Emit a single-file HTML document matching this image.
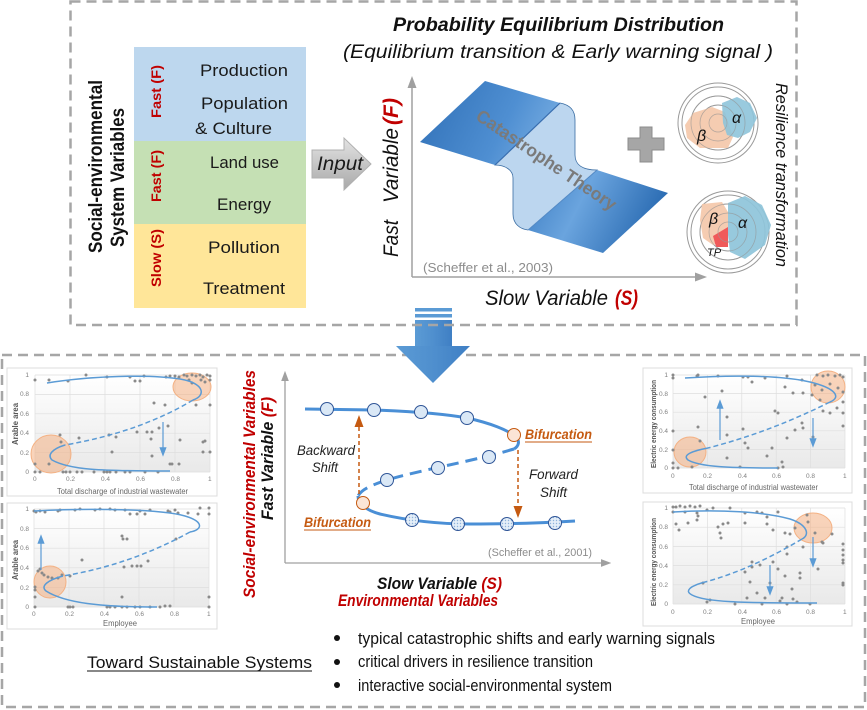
<!DOCTYPE html>
<html><head><meta charset="utf-8">
<style>
html,body{margin:0;padding:0;background:#fff;}
svg{display:block;}
text{font-family:"Liberation Sans",Arial,sans-serif;}
</style></head>
<body>
<svg width="867" height="710" viewBox="0 0 867 710" xmlns="http://www.w3.org/2000/svg">
<defs>
<linearGradient id="gIn" x1="0" y1="0" x2="0" y2="1"><stop offset="0" stop-color="#e3e3e3"/><stop offset="1" stop-color="#a9a9a9"/></linearGradient>
<linearGradient id="gL" x1="0" y1="0" x2="1" y2="0.3"><stop offset="0" stop-color="#2f6fb6"/><stop offset="0.7" stop-color="#4f8fd2"/><stop offset="1" stop-color="#6ea6de"/></linearGradient>
<linearGradient id="gR" x1="0" y1="0" x2="1" y2="0.3"><stop offset="0" stop-color="#3b7cc2"/><stop offset="0.45" stop-color="#6aa4de"/><stop offset="1" stop-color="#2b6cb3"/></linearGradient>
<linearGradient id="gArr" x1="0" y1="0" x2="1" y2="0"><stop offset="0" stop-color="#5b9bd5"/><stop offset="0.5" stop-color="#4f8fce"/><stop offset="1" stop-color="#3f7fc4"/></linearGradient>
<linearGradient id="gPlot" x1="0" y1="0" x2="0" y2="1"><stop offset="0" stop-color="#ffffff"/><stop offset="1" stop-color="#e9e9e9"/></linearGradient>
<marker id="mGrey" markerWidth="8" markerHeight="8" refX="4" refY="4" orient="auto"><path d="M0,1 L8,4 L0,7 Z" fill="#a0a0a0"/></marker>
<marker id="mOr" markerWidth="8" markerHeight="8" refX="4" refY="4" orient="auto"><path d="M0,1 L8,4 L0,7 Z" fill="#c55a11"/></marker>
<marker id="mBl" markerWidth="8" markerHeight="8" refX="4" refY="4" orient="auto"><path d="M0,1 L8,4 L0,7 Z" fill="#5b9bd5"/></marker>
<pattern id="hatch" width="3" height="3" patternUnits="userSpaceOnUse"><rect width="3" height="3" fill="#e4eef8"/><circle cx="1.5" cy="1.5" r="0.7" fill="#8fb3dc"/></pattern>
</defs>

<!-- ===== TOP BOX ===== -->
<rect x="134" y="47" width="172" height="94" fill="#bdd7ee"/>
<rect x="134" y="141" width="172" height="83" fill="#c5e0b4"/>
<rect x="134" y="224" width="172" height="84" fill="#ffe699"/>
<g font-size="17" fill="#1a1a1a">
<text x="200" y="76" textLength="88" lengthAdjust="spacingAndGlyphs">Production</text>
<text x="201" y="109" textLength="87" lengthAdjust="spacingAndGlyphs">Population</text>
<text x="195" y="134" textLength="77" lengthAdjust="spacingAndGlyphs">&amp; Culture</text>
<text x="210" y="168" textLength="69" lengthAdjust="spacingAndGlyphs">Land use</text>
<text x="217" y="210" textLength="54" lengthAdjust="spacingAndGlyphs">Energy</text>
<text x="208" y="253" textLength="72" lengthAdjust="spacingAndGlyphs">Pollution</text>
<text x="203" y="294" textLength="82" lengthAdjust="spacingAndGlyphs">Treatment</text>
</g>
<g font-size="14" font-weight="bold" fill="#c00000">
<text transform="translate(161,118) rotate(-90)" textLength="53" lengthAdjust="spacingAndGlyphs">Fast (F)</text>
<text transform="translate(161,202) rotate(-90)" textLength="52" lengthAdjust="spacingAndGlyphs">Fast (F)</text>
<text transform="translate(161,287) rotate(-90)" textLength="58" lengthAdjust="spacingAndGlyphs">Slow (S)</text>
</g>
<g font-size="19" font-weight="bold" fill="#111">
<text transform="translate(102,253) rotate(-90)" textLength="173" lengthAdjust="spacingAndGlyphs">Social-environmental</text>
<text transform="translate(124,247) rotate(-90)" textLength="139" lengthAdjust="spacingAndGlyphs">System Variables</text>
</g>
<polygon points="312,150 344,150 344,138 371,164 344,190 344,178 312,178" fill="url(#gIn)" stroke="#b0b0b0" stroke-width="1"/>
<text x="317" y="170" font-size="19" font-style="italic" fill="#1a1a1a" textLength="46" lengthAdjust="spacingAndGlyphs">Input</text>

<text x="393" y="31" font-size="19" font-weight="bold" font-style="italic" fill="#111" textLength="331" lengthAdjust="spacingAndGlyphs">Probability Equilibrium Distribution</text>
<text x="343" y="58" font-size="19" font-style="italic" fill="#111" textLength="430" lengthAdjust="spacingAndGlyphs">(Equilibrium transition &amp; Early warning signal )</text>

<line x1="412" y1="277" x2="412" y2="82" stroke="#a0a0a0" stroke-width="1.5" marker-end="url(#mGrey)"/>
<line x1="412" y1="277" x2="701" y2="277" stroke="#a0a0a0" stroke-width="1.5" marker-end="url(#mGrey)"/>
<g transform="translate(398,257) rotate(-90)" font-size="21" font-style="italic" fill="#111">
<text x="0" y="0" textLength="37" lengthAdjust="spacingAndGlyphs">Fast</text>
<text x="54" y="0" textLength="75" lengthAdjust="spacingAndGlyphs">Variable</text>
<text x="132" y="0" textLength="27" lengthAdjust="spacingAndGlyphs" font-weight="bold" fill="#c00000">(F)</text>
</g>
<text x="485" y="305" font-size="21" font-style="italic" fill="#111" textLength="123" lengthAdjust="spacingAndGlyphs">Slow Variable</text>
<text x="615" y="305" font-size="21" font-style="italic" font-weight="bold" fill="#c00000" textLength="23" lengthAdjust="spacingAndGlyphs">(S)</text>
<text x="423" y="272" font-size="13" fill="#8c8c8c" textLength="130" lengthAdjust="spacingAndGlyphs">(Scheffer et al., 2003)</text>

<path d="M420,142 L485,81 L560,103 L495,165 Z" fill="url(#gL)"/>
<path d="M597,170 L668,193 L603,253 L528,230 Z" fill="url(#gR)"/>
<path d="M560,103 C570,105 575,110 575,120 L575,155 C575,165 583,170 597,170 L528,230 C520,229 513,224 513,214 L513,178 C513,170 505,165 495,165 Z" fill="#bcd6ef" stroke="#3a6da3" stroke-width="0.8"/>
<line x1="560" y1="103" x2="495" y2="165" stroke="#3a6fb0" stroke-width="1.2"/>
<line x1="597" y1="170" x2="528" y2="230" stroke="#5a90cc" stroke-width="0.8"/>
<text transform="translate(543,165) rotate(34)" text-anchor="middle" font-size="18" font-weight="bold" fill="#7a7a7a" textLength="165" lengthAdjust="spacingAndGlyphs">Catastrophe Theory</text>

<path d="M640,127 H652 V138 H664 V150 H652 V162 H640 V150 H628 V138 H640 Z" fill="#a6a6a6" stroke="#8c8c8c" stroke-width="1"/>

<g fill="none" stroke="#9a9a9a" stroke-width="1">
<circle cx="718" cy="123" r="40"/><circle cx="718" cy="123" r="36"/><circle cx="718" cy="123" r="27"/><circle cx="718" cy="123" r="18"/><circle cx="718" cy="123" r="9"/>
</g>
<polygon points="685,125 693,113 712,107 725,112 733,137 728,148 700,148 687,138" fill="#f4c7a8" opacity="0.9"/>
<polygon points="722,103 737,97 750,103 757,118 750,132 738,138 727,135 723,123" fill="#8ec4da" opacity="0.9"/>
<g fill="none" stroke="#9a9a9a" stroke-width="0.7" opacity="0.7"><circle cx="718" cy="123" r="18"/><circle cx="718" cy="123" r="9"/><circle cx="718" cy="123" r="27"/></g>
<text x="697" y="141" font-size="16" font-style="italic" fill="#111">β</text>
<text x="732" y="123" font-size="16" font-style="italic" fill="#111">α</text>
<g fill="none" stroke="#9a9a9a" stroke-width="1">
<circle cx="728" cy="232" r="41"/><circle cx="728" cy="232" r="37"/><circle cx="728" cy="232" r="28"/><circle cx="728" cy="232" r="19"/><circle cx="728" cy="232" r="10"/>
</g>
<polygon points="702,204 722,202 728,212 728,238 713,245 703,238 700,220" fill="#f4c7a8" opacity="0.9"/>
<polygon points="728,203 745,196 762,205 771,225 765,245 745,259 730,252 728,235" fill="#8ec4da" opacity="0.92"/>
<polygon points="713,236 728,227 728,247 716,247" fill="#f05a5a"/>
<g fill="none" stroke="#9a9a9a" stroke-width="0.7" opacity="0.7"><circle cx="728" cy="232" r="19"/><circle cx="728" cy="232" r="10"/><circle cx="728" cy="232" r="28"/></g>
<text x="709" y="224" font-size="16" font-style="italic" fill="#111">β</text>
<text x="738" y="228" font-size="16" font-style="italic" fill="#111">α</text>
<text x="707" y="256" font-size="11" font-style="italic" fill="#111">TP</text>
<text transform="translate(776,83) rotate(90)" font-size="17" font-style="italic" fill="#111" textLength="184" lengthAdjust="spacingAndGlyphs">Resilience transformation</text>

<!-- bottom dashed box (under arrow) -->
<rect x="2" y="355" width="863" height="352" fill="none" stroke="#a6a6a6" stroke-width="2.5" stroke-dasharray="10 6"/>

<!-- big blue arrow -->
<rect x="415" y="308" width="37" height="3.5" fill="#5b9bd5"/>
<rect x="415" y="314" width="37" height="3.5" fill="#5b9bd5"/>
<rect x="415" y="320" width="37" height="27" fill="url(#gArr)"/>
<polygon points="396,346 470,346 433,383" fill="url(#gArr)"/>

<!-- top dashed box (over arrow) -->
<rect x="70.5" y="1.5" width="726" height="323.5" fill="none" stroke="#a6a6a6" stroke-width="2.5" stroke-dasharray="10 6"/>

<!-- ===== BOTTOM MIDDLE DIAGRAM ===== -->
<line x1="285" y1="563" x2="285" y2="376" stroke="#a0a0a0" stroke-width="1.3" marker-end="url(#mGrey)"/>
<line x1="285" y1="563" x2="606" y2="563" stroke="#a0a0a0" stroke-width="1.3" marker-end="url(#mGrey)"/>
<path d="M305,409 L374,410 C400,411 440,413 467,418 C490,423 508,430 516,437 C520,441 519,446 514,449" fill="none" stroke="#4a8fd6" stroke-width="3"/>
<path d="M514,449 C470,462 420,470 387,480 C372,485 362,489 358,496" fill="none" stroke="#4a8fd6" stroke-width="3" stroke-dasharray="12 7"/>
<path d="M358,496 C358,503 365,510 380,514 C410,521 440,524 470,524 C510,524 545,523 575,521" fill="none" stroke="#4a8fd6" stroke-width="3"/>
<g stroke="#2f5597" stroke-width="1" fill="#dae8f6">
<circle cx="327" cy="409" r="6.5"/><circle cx="374" cy="410" r="6.5"/><circle cx="421" cy="412" r="6.5"/><circle cx="467" cy="418" r="6.5"/>
<circle cx="387" cy="480" r="6.5"/><circle cx="438" cy="468" r="6.5"/><circle cx="489" cy="457" r="6.5"/>
</g>
<g stroke="#2f5597" stroke-width="1" fill="url(#hatch)">
<circle cx="412" cy="520" r="6.5"/><circle cx="458" cy="524" r="6.5"/><circle cx="507" cy="524" r="6.5"/><circle cx="555" cy="523" r="6.5"/>
</g>
<g stroke="#c55a11" stroke-width="1" fill="#fbe5d6">
<circle cx="514" cy="435" r="6.5"/><circle cx="363" cy="503" r="6.5"/>
</g>
<line x1="359" y1="494" x2="359" y2="421" stroke="#c55a11" stroke-width="1.5" stroke-dasharray="4 3" marker-end="url(#mOr)"/>
<line x1="518" y1="450" x2="518" y2="512" stroke="#c55a11" stroke-width="1.5" stroke-dasharray="4 3" marker-end="url(#mOr)"/>
<g font-size="14" font-weight="bold" font-style="italic" fill="#c55a11">
<text x="525" y="439" textLength="67" lengthAdjust="spacingAndGlyphs">Bifurcation</text>
<text x="304" y="527" textLength="67" lengthAdjust="spacingAndGlyphs">Bifurcation</text>
</g>
<line x1="525" y1="442" x2="592" y2="442" stroke="#c55a11" stroke-width="1"/>
<line x1="304" y1="530" x2="371" y2="530" stroke="#c55a11" stroke-width="1"/>
<g font-size="14" font-style="italic" fill="#222">
<text x="297" y="455" textLength="58" lengthAdjust="spacingAndGlyphs">Backward</text>
<text x="312" y="472" textLength="26" lengthAdjust="spacingAndGlyphs">Shift</text>
<text x="529" y="479" textLength="49" lengthAdjust="spacingAndGlyphs">Forward</text>
<text x="540" y="497" textLength="27" lengthAdjust="spacingAndGlyphs">Shift</text>
</g>
<text x="488" y="556" font-size="11" fill="#8c8c8c" textLength="104" lengthAdjust="spacingAndGlyphs">(Scheffer et al., 2001)</text>
<text transform="translate(255,598) rotate(-90)" font-size="17" font-weight="bold" font-style="italic" fill="#c00000" textLength="228" lengthAdjust="spacingAndGlyphs">Social-environmental Variables</text>
<text transform="translate(273,520) rotate(-90)" font-size="17" font-weight="bold" font-style="italic" fill="#111" textLength="123" lengthAdjust="spacingAndGlyphs">Fast  Variable <tspan fill="#c00000">(F)</tspan></text>
<text x="377" y="589" font-size="17" font-weight="bold" font-style="italic" fill="#111" textLength="125" lengthAdjust="spacingAndGlyphs">Slow Variable <tspan fill="#c00000">(S)</tspan></text>
<text x="338" y="606" font-size="17" font-weight="bold" font-style="italic" fill="#c00000" textLength="160" lengthAdjust="spacingAndGlyphs">Environmental Variables</text>

<g fill="#111">
<circle cx="337" cy="638" r="3"/><circle cx="337" cy="662" r="3"/><circle cx="337" cy="685" r="3"/>
</g>
<g font-size="17" fill="#111">
<text x="358" y="644" textLength="357" lengthAdjust="spacingAndGlyphs">typical catastrophic shifts and early warning signals</text>
<text x="358" y="667" textLength="235" lengthAdjust="spacingAndGlyphs">critical drivers in resilience transition</text>
<text x="358" y="691" textLength="254" lengthAdjust="spacingAndGlyphs">interactive social-environmental system</text>
<text x="87" y="668" textLength="225" lengthAdjust="spacingAndGlyphs">Toward Sustainable Systems</text>
</g>
<line x1="87" y1="671" x2="312" y2="671" stroke="#111" stroke-width="1"/>

<!-- ===== SCATTER PLOTS ===== -->
<g font-size="6.5" fill="#7f7f7f">
<rect x="7" y="368" width="210" height="128" fill="#fff" stroke="#dcdcdc"/>
<rect x="35" y="375" width="175" height="97" fill="url(#gPlot)"/>
<g stroke="#dedede" stroke-width="0.7">
<path d="M35,375V472M70,375V472M105,375V472M140,375V472M175,375V472M210,375V472M35,375H210M35,394.4H210M35,413.8H210M35,433.2H210M35,452.6H210M35,472H210"/>
</g>
<text x="33" y="481">0</text><text x="66" y="481">0.2</text><text x="101" y="481">0.4</text><text x="136" y="481">0.6</text><text x="171" y="481">0.8</text><text x="208" y="481">1</text>
<text x="29" y="377" text-anchor="end">1</text><text x="29" y="396" text-anchor="end">0.8</text><text x="29" y="416" text-anchor="end">0.6</text><text x="29" y="435" text-anchor="end">0.4</text><text x="29" y="455" text-anchor="end">0.2</text><text x="29" y="474" text-anchor="end">0</text>
<text x="57" y="494" font-size="8" fill="#666" textLength="131" lengthAdjust="spacingAndGlyphs">Total discharge of industrial wastewater</text>
<text transform="translate(18,445) rotate(-90)" font-size="8" font-weight="bold" fill="#555" textLength="42" lengthAdjust="spacingAndGlyphs">Arable area</text>
<ellipse cx="192" cy="387" rx="19" ry="14" fill="#f4b183" fill-opacity="0.55" stroke="#f4b183"/>
<ellipse cx="51" cy="454" rx="20" ry="19" fill="#f4b183" fill-opacity="0.55" stroke="#f4b183"/>
<g fill="#8a8a8a">
<circle cx="35" cy="380" r="1.5"/><circle cx="49" cy="380" r="1.5"/><circle cx="68" cy="381" r="1.5"/><circle cx="86" cy="375" r="1.5"/><circle cx="107" cy="377" r="1.5"/><circle cx="130" cy="377" r="1.5"/><circle cx="135" cy="381" r="1.5"/><circle cx="140" cy="381" r="1.5"/><circle cx="144" cy="376" r="1.5"/>
<circle cx="166" cy="377" r="1.5"/><circle cx="170" cy="376" r="1.5"/><circle cx="175" cy="376" r="1.5"/><circle cx="179" cy="377" r="1.5"/><circle cx="184" cy="375" r="1.5"/><circle cx="187" cy="376" r="1.5"/><circle cx="192" cy="375" r="1.5"/><circle cx="196" cy="376" r="1.5"/><circle cx="200" cy="375" r="1.5"/><circle cx="203" cy="377" r="1.5"/><circle cx="207" cy="375" r="1.5"/><circle cx="210" cy="376" r="1.5"/><circle cx="210" cy="380" r="1.5"/><circle cx="201" cy="380" r="1.5"/><circle cx="189" cy="380" r="1.5"/><circle cx="192" cy="383" r="1.5"/><circle cx="205" cy="382" r="1.5"/>
<circle cx="154" cy="403" r="1.5"/><circle cx="165" cy="405" r="1.5"/><circle cx="196" cy="405" r="1.5"/><circle cx="210" cy="405" r="1.5"/><circle cx="168" cy="426" r="1.5"/><circle cx="159" cy="428" r="1.5"/><circle cx="137" cy="432" r="1.5"/><circle cx="147" cy="432" r="1.5"/><circle cx="152" cy="432" r="1.5"/><circle cx="151" cy="439" r="1.5"/><circle cx="109" cy="435" r="1.5"/><circle cx="116" cy="437" r="1.5"/><circle cx="79" cy="438" r="1.5"/><circle cx="60" cy="435" r="1.5"/><circle cx="61" cy="442" r="1.5"/><circle cx="180" cy="440" r="1.5"/><circle cx="203" cy="442" r="1.5"/><circle cx="205" cy="441" r="1.5"/><circle cx="112" cy="452" r="1.5"/><circle cx="203" cy="452" r="1.5"/><circle cx="210" cy="452" r="1.5"/><circle cx="152" cy="456" r="1.5"/><circle cx="170" cy="464" r="1.5"/><circle cx="172" cy="464" r="1.5"/><circle cx="179" cy="464" r="1.5"/><circle cx="49" cy="464" r="1.5"/><circle cx="35" cy="464" r="1.5"/>
<circle cx="35" cy="472" r="1.5"/><circle cx="40" cy="472" r="1.5"/><circle cx="63" cy="472" r="1.5"/><circle cx="66" cy="472" r="1.5"/><circle cx="70" cy="472" r="1.5"/><circle cx="77" cy="472" r="1.5"/><circle cx="82" cy="472" r="1.5"/><circle cx="94" cy="472" r="1.5"/><circle cx="104" cy="472" r="1.5"/><circle cx="107" cy="472" r="1.5"/><circle cx="110" cy="472" r="1.5"/><circle cx="116" cy="472" r="1.5"/><circle cx="125" cy="472" r="1.5"/><circle cx="130" cy="472" r="1.5"/><circle cx="145" cy="472" r="1.5"/><circle cx="158" cy="472" r="1.5"/>
</g>
<path d="M47,383 C90,376 150,374 180,379 C205,383 206,396 193,400" fill="none" stroke="#5b9bd5" stroke-width="1.5"/>
<path d="M193,400 Q140,432 65,445" fill="none" stroke="#5b9bd5" stroke-width="1.5" stroke-dasharray="5 3"/>
<path d="M65,445 C52,449 47,455 52,460 C70,470 100,471 170,471" fill="none" stroke="#5b9bd5" stroke-width="1.5"/>
<line x1="163" y1="422" x2="163" y2="452" stroke="#5b9bd5" stroke-width="1.2" marker-end="url(#mBl)"/>

<rect x="7" y="503" width="210" height="126" fill="#fff" stroke="#dcdcdc"/>
<rect x="34" y="509" width="175" height="98" fill="url(#gPlot)"/>
<g stroke="#dedede" stroke-width="0.7">
<path d="M34,509V607M69,509V607M104,509V607M139,509V607M174,509V607M209,509V607M34,509H209M34,528.6H209M34,548.2H209M34,567.8H209M34,587.4H209M34,607H209"/>
</g>
<text x="32" y="616">0</text><text x="65" y="616">0.2</text><text x="100" y="616">0.4</text><text x="135" y="616">0.6</text><text x="170" y="616">0.8</text><text x="207" y="616">1</text>
<text x="29" y="511" text-anchor="end">1</text><text x="29" y="531" text-anchor="end">0.8</text><text x="29" y="550" text-anchor="end">0.6</text><text x="29" y="570" text-anchor="end">0.4</text><text x="29" y="590" text-anchor="end">0.2</text><text x="29" y="609" text-anchor="end">0</text>
<text x="103" y="626" font-size="8" fill="#666" textLength="34" lengthAdjust="spacingAndGlyphs">Employee</text>
<text transform="translate(18,580) rotate(-90)" font-size="8" font-weight="bold" fill="#555" textLength="40" lengthAdjust="spacingAndGlyphs">Arable area</text>
<ellipse cx="50" cy="582" rx="16" ry="16" fill="#f4b183" fill-opacity="0.55" stroke="#f4b183"/>
<g fill="#8a8a8a">
<circle cx="34" cy="511" r="1.5"/><circle cx="36" cy="512" r="1.5"/><circle cx="40" cy="511" r="1.5"/><circle cx="45" cy="512" r="1.5"/><circle cx="58" cy="511" r="1.5"/><circle cx="60" cy="510" r="1.5"/><circle cx="75" cy="510" r="1.5"/><circle cx="80" cy="509" r="1.5"/><circle cx="95" cy="510" r="1.5"/><circle cx="100" cy="509" r="1.5"/><circle cx="110" cy="509" r="1.5"/><circle cx="115" cy="510" r="1.5"/><circle cx="125" cy="510" r="1.5"/><circle cx="140" cy="511" r="1.5"/><circle cx="150" cy="510" r="1.5"/><circle cx="168" cy="511" r="1.5"/><circle cx="175" cy="510" r="1.5"/><circle cx="178" cy="513" r="1.5"/><circle cx="188" cy="513" r="1.5"/><circle cx="200" cy="508" r="1.5"/><circle cx="209" cy="508" r="1.5"/>
<circle cx="130" cy="514" r="1.5"/><circle cx="137" cy="514" r="1.5"/><circle cx="145" cy="514" r="1.5"/><circle cx="170" cy="512" r="1.5"/><circle cx="198" cy="514" r="1.5"/><circle cx="209" cy="514" r="1.5"/>
<circle cx="122" cy="536" r="1.5"/><circle cx="123" cy="539" r="1.5"/><circle cx="127" cy="539" r="1.5"/><circle cx="176" cy="539" r="1.5"/><circle cx="82" cy="560" r="1.5"/><circle cx="124" cy="567" r="1.5"/><circle cx="132" cy="566" r="1.5"/><circle cx="137" cy="566" r="1.5"/><circle cx="141" cy="566" r="1.5"/><circle cx="148" cy="561" r="1.5"/>
<circle cx="40" cy="569" r="1.5"/><circle cx="38" cy="571" r="1.5"/><circle cx="42" cy="573" r="1.5"/><circle cx="44" cy="575" r="1.5"/><circle cx="48" cy="577" r="1.5"/><circle cx="52" cy="578" r="1.5"/><circle cx="58" cy="578" r="1.5"/><circle cx="62" cy="575" r="1.5"/><circle cx="70" cy="576" r="1.5"/>
<circle cx="35" cy="587" r="1.5"/><circle cx="35" cy="590" r="1.5"/><circle cx="35" cy="597" r="1.5"/><circle cx="122" cy="597" r="1.5"/>
<circle cx="35" cy="607" r="1.5"/><circle cx="68" cy="607" r="1.5"/><circle cx="70" cy="607" r="1.5"/><circle cx="73" cy="607" r="1.5"/><circle cx="107" cy="607" r="1.5"/><circle cx="110" cy="607" r="1.5"/><circle cx="115" cy="607" r="1.5"/><circle cx="122" cy="607" r="1.5"/><circle cx="127" cy="607" r="1.5"/><circle cx="135" cy="607" r="1.5"/><circle cx="140" cy="607" r="1.5"/><circle cx="150" cy="607" r="1.5"/><circle cx="160" cy="607" r="1.5"/><circle cx="165" cy="606" r="1.5"/><circle cx="170" cy="606" r="1.5"/><circle cx="209" cy="597" r="1.5"/><circle cx="209" cy="607" r="1.5"/>
</g>
<path d="M34,511 C90,508 160,509 185,516 C205,522 202,530 190,532" fill="none" stroke="#5b9bd5" stroke-width="1.5"/>
<path d="M190,532 Q130,565 63,576" fill="none" stroke="#5b9bd5" stroke-width="1.5" stroke-dasharray="5 3"/>
<path d="M63,576 C48,580 40,586 46,591 C65,603 100,607 157,607" fill="none" stroke="#5b9bd5" stroke-width="1.5"/>
<line x1="41" y1="570" x2="41" y2="539" stroke="#5b9bd5" stroke-width="1.2" marker-end="url(#mBl)"/>

<rect x="643" y="368" width="209" height="125" fill="#fff" stroke="#dcdcdc"/>
<rect x="673" y="375" width="172" height="93" fill="url(#gPlot)"/>
<g stroke="#dedede" stroke-width="0.7">
<path d="M673,375V468M707.4,375V468M741.8,375V468M776.2,375V468M810.6,375V468M845,375V468M673,375H845M673,393.6H845M673,412.2H845M673,430.8H845M673,449.4H845M673,468H845"/>
</g>
<text x="671" y="478">0</text><text x="703" y="478">0.2</text><text x="738" y="478">0.4</text><text x="772" y="478">0.6</text><text x="806" y="478">0.8</text><text x="843" y="478">1</text>
<text x="668" y="377" text-anchor="end">1</text><text x="668" y="396" text-anchor="end">0.8</text><text x="668" y="414" text-anchor="end">0.6</text><text x="668" y="433" text-anchor="end">0.4</text><text x="668" y="452" text-anchor="end">0.2</text><text x="668" y="470" text-anchor="end">0</text>
<text x="689" y="490" font-size="8" fill="#666" textLength="129" lengthAdjust="spacingAndGlyphs">Total discharge of industrial wastewater</text>
<text transform="translate(656,468) rotate(-90)" font-size="7.5" font-weight="bold" fill="#555" textLength="88" lengthAdjust="spacingAndGlyphs">Electric energy consumption</text>
<ellipse cx="828" cy="387" rx="17" ry="16" fill="#f4b183" fill-opacity="0.55" stroke="#f4b183"/>
<ellipse cx="690" cy="452" rx="16" ry="15" fill="#f4b183" fill-opacity="0.55" stroke="#f4b183"/>
<g fill="#8a8a8a">
<circle cx="673" cy="375" r="1.5"/><circle cx="673" cy="378" r="1.5"/><circle cx="697" cy="376" r="1.5"/><circle cx="698" cy="375" r="1.5"/><circle cx="718" cy="376" r="1.5"/><circle cx="722" cy="391" r="1.5"/><circle cx="705" cy="397" r="1.5"/><circle cx="743" cy="377" r="1.5"/><circle cx="748" cy="377" r="1.5"/><circle cx="752" cy="382" r="1.5"/><circle cx="765" cy="378" r="1.5"/><circle cx="787" cy="376" r="1.5"/><circle cx="785" cy="387" r="1.5"/><circle cx="793" cy="393" r="1.5"/><circle cx="802" cy="380" r="1.5"/><circle cx="803" cy="393" r="1.5"/>
<circle cx="817" cy="375" r="1.5"/><circle cx="823" cy="376" r="1.5"/><circle cx="828" cy="375" r="1.5"/><circle cx="835" cy="376" r="1.5"/><circle cx="840" cy="375" r="1.5"/><circle cx="843" cy="377" r="1.5"/><circle cx="815" cy="385" r="1.5"/><circle cx="822" cy="390" r="1.5"/><circle cx="830" cy="384" r="1.5"/><circle cx="838" cy="388" r="1.5"/><circle cx="812" cy="395" r="1.5"/>
<circle cx="843" cy="392" r="1.5"/><circle cx="843" cy="402" r="1.5"/><circle cx="843" cy="413" r="1.5"/><circle cx="843" cy="426" r="1.5"/><circle cx="727" cy="417" r="1.5"/><circle cx="727" cy="435" r="1.5"/><circle cx="698" cy="427" r="1.5"/><circle cx="673" cy="431" r="1.5"/><circle cx="700" cy="441" r="1.5"/><circle cx="673" cy="450" r="1.5"/><circle cx="673" cy="463" r="1.5"/><circle cx="673" cy="468" r="1.5"/><circle cx="678" cy="468" r="1.5"/><circle cx="692" cy="467" r="1.5"/>
<circle cx="743" cy="429" r="1.5"/><circle cx="745" cy="443" r="1.5"/><circle cx="748" cy="448" r="1.5"/><circle cx="727" cy="458" r="1.5"/><circle cx="740" cy="467" r="1.5"/><circle cx="767" cy="456" r="1.5"/><circle cx="772" cy="448" r="1.5"/><circle cx="775" cy="411" r="1.5"/><circle cx="778" cy="413" r="1.5"/><circle cx="787" cy="438" r="1.5"/><circle cx="795" cy="430" r="1.5"/><circle cx="802" cy="423" r="1.5"/><circle cx="813" cy="437" r="1.5"/><circle cx="803" cy="428" r="1.5"/><circle cx="782" cy="462" r="1.5"/><circle cx="783" cy="467" r="1.5"/><circle cx="778" cy="468" r="1.5"/><circle cx="820" cy="400" r="1.5"/><circle cx="823" cy="411" r="1.5"/><circle cx="837" cy="408" r="1.5"/><circle cx="830" cy="413" r="1.5"/>
</g>
<path d="M685,378 C730,375 780,375 810,382 C835,388 842,397 830,402" fill="none" stroke="#5b9bd5" stroke-width="1.5"/>
<path d="M830,402 Q770,432 708,448" fill="none" stroke="#5b9bd5" stroke-width="1.5" stroke-dasharray="5 3"/>
<path d="M708,448 C692,451 682,455 688,460 C700,467 730,468 778,468" fill="none" stroke="#5b9bd5" stroke-width="1.5"/>
<line x1="720" y1="440" x2="720" y2="404" stroke="#5b9bd5" stroke-width="1.2" marker-end="url(#mBl)"/>
<line x1="813" y1="418" x2="813" y2="443" stroke="#5b9bd5" stroke-width="1.2" marker-end="url(#mBl)"/>

<rect x="643" y="502" width="209" height="124" fill="#fff" stroke="#dcdcdc"/>
<rect x="673" y="508" width="172" height="96" fill="url(#gPlot)"/>
<g stroke="#dedede" stroke-width="0.7">
<path d="M673,508V604M707.4,508V604M741.8,508V604M776.2,508V604M810.6,508V604M845,508V604M673,508H845M673,527.2H845M673,546.4H845M673,565.6H845M673,584.8H845M673,604H845"/>
</g>
<text x="671" y="614">0</text><text x="703" y="614">0.2</text><text x="738" y="614">0.4</text><text x="772" y="614">0.6</text><text x="806" y="614">0.8</text><text x="843" y="614">1</text>
<text x="668" y="510" text-anchor="end">1</text><text x="668" y="529" text-anchor="end">0.8</text><text x="668" y="549" text-anchor="end">0.6</text><text x="668" y="568" text-anchor="end">0.4</text><text x="668" y="587" text-anchor="end">0.2</text><text x="668" y="606" text-anchor="end">0</text>
<text x="741" y="624" font-size="8" fill="#666" textLength="34" lengthAdjust="spacingAndGlyphs">Employee</text>
<text transform="translate(656,606) rotate(-90)" font-size="7.5" font-weight="bold" fill="#555" textLength="88" lengthAdjust="spacingAndGlyphs">Electric energy consumption</text>
<ellipse cx="813" cy="528" rx="19" ry="15" fill="#f4b183" fill-opacity="0.55" stroke="#f4b183"/>
<g fill="#8a8a8a">
<circle cx="673" cy="507" r="1.5"/><circle cx="676" cy="507" r="1.5"/><circle cx="680" cy="506" r="1.5"/><circle cx="685" cy="507" r="1.5"/><circle cx="690" cy="506" r="1.5"/><circle cx="695" cy="507" r="1.5"/><circle cx="700" cy="506" r="1.5"/><circle cx="673" cy="512" r="1.5"/><circle cx="685" cy="512" r="1.5"/><circle cx="697" cy="513" r="1.5"/><circle cx="707" cy="510" r="1.5"/><circle cx="713" cy="508" r="1.5"/><circle cx="730" cy="508" r="1.5"/><circle cx="745" cy="513" r="1.5"/><circle cx="757" cy="512" r="1.5"/><circle cx="767" cy="517" r="1.5"/><circle cx="778" cy="512" r="1.5"/>
<circle cx="676" cy="524" r="1.5"/><circle cx="688" cy="523" r="1.5"/><circle cx="698" cy="516" r="1.5"/><circle cx="697" cy="520" r="1.5"/><circle cx="718" cy="527" r="1.5"/><circle cx="723" cy="524" r="1.5"/><circle cx="728" cy="523" r="1.5"/><circle cx="720" cy="533" r="1.5"/><circle cx="721" cy="538" r="1.5"/><circle cx="745" cy="523" r="1.5"/><circle cx="767" cy="524" r="1.5"/><circle cx="762" cy="513" r="1.5"/><circle cx="773" cy="530" r="1.5"/><circle cx="785" cy="533" r="1.5"/><circle cx="795" cy="528" r="1.5"/><circle cx="790" cy="534" r="1.5"/><circle cx="807" cy="515" r="1.5"/><circle cx="808" cy="522" r="1.5"/><circle cx="815" cy="533" r="1.5"/><circle cx="822" cy="542" r="1.5"/><circle cx="832" cy="534" r="1.5"/>
<circle cx="843" cy="544" r="1.5"/><circle cx="843" cy="550" r="1.5"/><circle cx="843" cy="555" r="1.5"/><circle cx="843" cy="560" r="1.5"/><circle cx="843" cy="563" r="1.5"/><circle cx="843" cy="583" r="1.5"/><circle cx="679" cy="530" r="1.5"/>
<circle cx="752" cy="562" r="1.5"/><circle cx="752" cy="567" r="1.5"/><circle cx="745" cy="572" r="1.5"/><circle cx="760" cy="565" r="1.5"/><circle cx="773" cy="562" r="1.5"/><circle cx="803" cy="547" r="1.5"/><circle cx="800" cy="578" r="1.5"/><circle cx="800" cy="573" r="1.5"/><circle cx="787" cy="554" r="1.5"/><circle cx="787" cy="547" r="1.5"/><circle cx="778" cy="569" r="1.5"/><circle cx="750" cy="582" r="1.5"/><circle cx="770" cy="583" r="1.5"/><circle cx="782" cy="598" r="1.5"/><circle cx="785" cy="576" r="1.5"/><circle cx="792" cy="589" r="1.5"/><circle cx="793" cy="599" r="1.5"/><circle cx="818" cy="569" r="1.5"/><circle cx="813" cy="563" r="1.5"/><circle cx="823" cy="543" r="1.5"/>
<circle cx="703" cy="583" r="1.5"/><circle cx="707" cy="602" r="1.5"/><circle cx="710" cy="600" r="1.5"/><circle cx="735" cy="604" r="1.5"/><circle cx="747" cy="598" r="1.5"/><circle cx="757" cy="593" r="1.5"/><circle cx="762" cy="604" r="1.5"/><circle cx="765" cy="598" r="1.5"/><circle cx="780" cy="601" r="1.5"/><circle cx="787" cy="604" r="1.5"/><circle cx="797" cy="602" r="1.5"/><circle cx="810" cy="604" r="1.5"/><circle cx="843" cy="585" r="1.5"/>
</g>
<path d="M673,512 C720,509 765,512 790,519 C808,525 810,535 802,539" fill="none" stroke="#5b9bd5" stroke-width="1.5"/>
<path d="M802,539 Q750,570 705,582" fill="none" stroke="#5b9bd5" stroke-width="1.5" stroke-dasharray="5 3"/>
<path d="M705,582 C690,586 684,591 692,595 C705,602 740,603 817,603" fill="none" stroke="#5b9bd5" stroke-width="1.5"/>
<line x1="770" y1="565" x2="770" y2="591" stroke="#5b9bd5" stroke-width="1.2" marker-end="url(#mBl)"/>
<line x1="813" y1="537" x2="813" y2="563" stroke="#5b9bd5" stroke-width="1.2" marker-end="url(#mBl)"/>
</g>
</svg>
</body></html>
